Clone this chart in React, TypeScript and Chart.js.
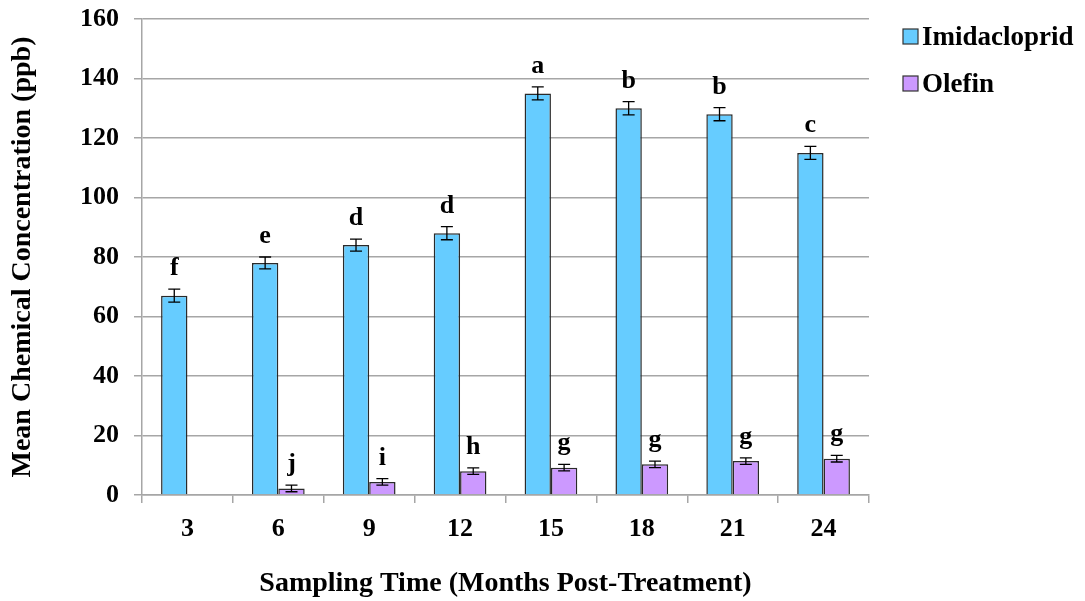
import React, { useEffect, useRef } from "react";
import { Chart, registerables } from "chart.js";

Chart.register(...registerables);

const months = ["3", "6", "9", "12", "15", "18", "21", "24"];
const imidacloprid = [67, 78, 84, 88, 135, 130, 128, 115];
const imidaclopridErr = [2.2, 2.0, 2.0, 2.2, 2.2, 2.2, 2.2, 2.2];
const imidaclopridLetters = ["f", "e", "d", "d", "a", "b", "b", "c"];
const olefin = [null, 2.2, 4.4, 8, 9.2, 10.3, 11.4, 12.2];
const olefinErr = [0, 1.1, 1.1, 1.1, 1.1, 1.1, 1.1, 1.1];
const olefinLetters = ["", "j", "i", "h", "g", "g", "g", "g"];
const yTicks = [0, 20, 40, 60, 80, 100, 120, 140, 160];

const FONT = '"Liberation Serif", "Times New Roman", serif';
const IMID_COLOR = "#66CCFF";
const OLEFIN_COLOR = "#CC99FF";
const GRID = "#a6a6a6";

const errs = [imidaclopridErr, olefinErr];
const letters = [imidaclopridLetters, olefinLetters];

const overlayPlugin = {
  id: "overlay",
  afterDatasetsDraw(chart: any) {
    const ctx = chart.ctx;
    const yScale = chart.scales.y;
    ctx.save();
    chart.data.datasets.forEach((ds: any, di: number) => {
      const meta = chart.getDatasetMeta(di);
      meta.data.forEach((bar: any, i: number) => {
        const v = ds.data[i];
        if (v === null || v === undefined) return;
        const e = errs[di][i];
        const x = bar.x;
        const yTop = yScale.getPixelForValue(v + e);
        const yBot = yScale.getPixelForValue(v - e);
        ctx.strokeStyle = "#000";
        ctx.lineWidth = 1.3;
        ctx.beginPath();
        ctx.moveTo(x, yTop);
        ctx.lineTo(x, yBot);
        ctx.moveTo(x - 6, yTop);
        ctx.lineTo(x + 6, yTop);
        ctx.moveTo(x - 6, yBot);
        ctx.lineTo(x + 6, yBot);
        ctx.stroke();
        const letter = letters[di][i];
        if (letter) {
          ctx.fillStyle = "#000";
          ctx.font = `bold 26px ${FONT}`;
          ctx.textAlign = "center";
          ctx.textBaseline = "alphabetic";
          ctx.fillText(letter, x, yTop - 14);
        }
      });
    });
    // legend
    const items = [
      { label: "Imidacloprid", color: IMID_COLOR, y: 45 },
      { label: "Olefin", color: OLEFIN_COLOR, y: 92 },
    ];
    items.forEach((it) => {
      ctx.fillStyle = it.color;
      ctx.fillRect(903, it.y - 16, 15, 15);
      ctx.strokeStyle = "#333";
      ctx.lineWidth = 1.2;
      ctx.strokeRect(903, it.y - 16, 15, 15);
      ctx.fillStyle = "#000";
      ctx.font = `bold 27px ${FONT}`;
      ctx.textAlign = "left";
      ctx.textBaseline = "alphabetic";
      ctx.fillText(it.label, 922, it.y);
    });
    ctx.restore();
  },
};

export default function App() {
  const ref = useRef<HTMLCanvasElement | null>(null);
  useEffect(() => {
    if (!ref.current) return;
    const chart = new Chart(ref.current, {
      type: "bar",
      data: {
        labels: months,
        datasets: [
          {
            label: "Imidacloprid",
            data: imidacloprid,
            backgroundColor: IMID_COLOR,
            borderColor: "#2a2a2a",
            borderWidth: 1.5,
            categoryPercentage: 0.58,
            barPercentage: 1,
          },
          {
            label: "Olefin",
            data: olefin as any,
            backgroundColor: OLEFIN_COLOR,
            borderColor: "#2a2a2a",
            borderWidth: 1.5,
            categoryPercentage: 0.58,
            barPercentage: 1,
          },
        ],
      },
      options: {
        animation: false,
        responsive: false,
        maintainAspectRatio: false,
        layout: { padding: { left: 0, right: 216, top: 19, bottom: 0 } },
        plugins: {
          legend: { display: false },
          tooltip: { enabled: false },
        },
        scales: {
          x: {
            grid: {
              drawOnChartArea: false,
              drawTicks: true,
              tickLength: 8,
              offset: true,
              color: GRID,
              lineWidth: 1.5,
            },
            border: { color: GRID, width: 1.5 },
            ticks: {
              color: "#000",
              font: { family: FONT, size: 26, weight: "bold" },
              padding: 11,
              maxRotation: 0,
            },
            title: {
              display: true,
              text: "Sampling Time (Months Post-Treatment)",
              color: "#000",
              font: { family: FONT, size: 28, weight: "bold" },
              padding: { top: 0, bottom: 0 },
            },
            afterFit: (s: any) => {
              s.height = 106;
              s.paddingLeft = 0;
              s.paddingRight = 0;
            },
          },
          y: {
            min: 0,
            max: 160,
            afterBuildTicks: (s: any) => {
              s.ticks = yTicks.map((v) => ({ value: v }));
            },
            grid: {
              color: GRID,
              lineWidth: 1.5,
              drawTicks: true,
              tickLength: 8,
            },
            border: { color: GRID, width: 1.5 },
            ticks: {
              color: "#000",
              font: { family: FONT, size: 26, weight: "bold" },
              padding: 15,
            },
            title: {
              display: true,
              text: "Mean Chemical Concentration (ppb)",
              color: "#000",
              font: { family: FONT, size: 28, weight: "bold" },
              padding: { top: 6, bottom: 0 },
            },
            afterFit: (s: any) => {
              s.width = 142;
              s.paddingTop = 0;
              s.paddingBottom = 0;
            },
          },
        },
      },
      plugins: [overlayPlugin],
    });
    return () => chart.destroy();
  }, []);
  return (
    <div style={{ position: "absolute", left: 0, top: 0, width: 1085, height: 601, background: "#fff" }}>
      <canvas ref={ref} width={1085} height={601} style={{ width: 1085, height: 601, display: "block" }} />
    </div>
  );
}
